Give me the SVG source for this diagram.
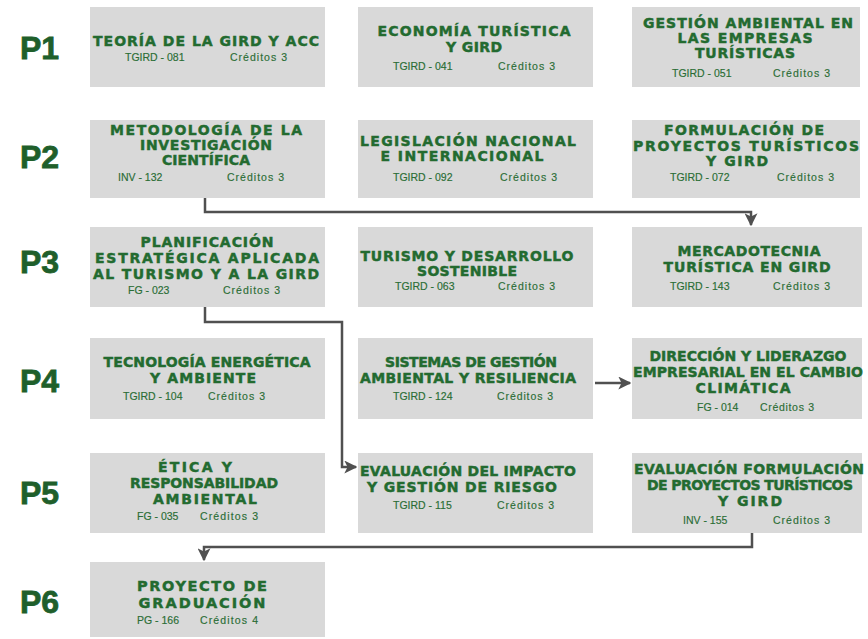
<svg xmlns="http://www.w3.org/2000/svg" width="868" height="639" viewBox="0 0 868 639">
<style>
.bg{fill:#ffffff}
.box{fill:#d9d9d9}
.t{font-family:"DejaVu Sans","Liberation Sans",sans-serif;font-weight:bold;font-size:14px;fill:#236b30;stroke:#236b30;stroke-width:0.45;text-anchor:middle}
.t6{font-size:14.5px}
.s{font-family:"Liberation Sans",Arial,sans-serif;font-size:10.5px;fill:#2a6d35;stroke:#2a6d35;stroke-width:0.15}
.p{font-family:"Liberation Sans",Arial,sans-serif;font-weight:bold;font-size:32px;fill:#1f5f2b;stroke:#1f5f2b;stroke-width:0.8}
.c{fill:none;stroke:#505050;stroke-width:2.5}
</style>
<defs>
<marker id="ah" viewBox="0 0 10 10" refX="9" refY="5" markerWidth="13" markerHeight="13" markerUnits="userSpaceOnUse" orient="auto">
<path d="M0,0 L10,5 L0,10 L2.5,5 z" fill="#505050"/>
</marker>
</defs>
<rect class="bg" x="0" y="0" width="868" height="639"/>

<g id="labels">
<text class="p" x="20" y="59">P1</text>
<text class="p" x="20" y="168">P2</text>
<text class="p" x="20" y="273">P3</text>
<text class="p" x="20" y="392">P4</text>
<text class="p" x="20" y="504">P5</text>
<text class="p" x="20" y="613">P6</text>
</g>

<g id="connectors">
<path class="c" d="M205,198 V212 H751 V225" marker-end="url(#ah)"/>
<path class="c" d="M205,307 V322 H342 V467 H356" marker-end="url(#ah)"/>
<path class="c" d="M595,383 H630" marker-end="url(#ah)"/>
<path class="c" d="M752,533 V547 H204 V560" marker-end="url(#ah)"/>
</g>

<g id="n-tgird081">
<rect class="box" x="90" y="7" width="235" height="80"/>
<text class="t" x="206" y="45.5" textLength="226">TEORÍA DE LA GIRD Y ACC</text>
<text class="s" x="125" y="61">TGIRD - 081</text>
<text class="s" x="230" y="61" textLength="57">Créditos 3</text>
</g>
<g id="n-tgird041">
<rect class="box" x="358" y="7" width="235" height="80"/>
<text class="t" x="474" y="36" textLength="193">ECONOMÍA TURÍSTICA</text>
<text class="t" x="474" y="51.5" textLength="56">Y GIRD</text>
<text class="s" x="393" y="70">TGIRD - 041</text>
<text class="s" x="498" y="70" textLength="57">Créditos 3</text>
</g>
<g id="n-tgird051">
<rect class="box" x="632" y="7" width="228" height="80"/>
<text class="t" x="748" y="28" textLength="210">GESTIÓN AMBIENTAL EN</text>
<text class="t" x="745" y="43" textLength="135">LAS EMPRESAS</text>
<text class="t" x="745" y="58" textLength="100">TURÍSTICAS</text>
<text class="s" x="672" y="77">TGIRD - 051</text>
<text class="s" x="773" y="77" textLength="57">Créditos 3</text>
</g>

<g id="n-inv132">
<rect class="box" x="90" y="120" width="235" height="78"/>
<text class="t" x="206" y="135" textLength="192">METODOLOGÍA DE LA</text>
<text class="t" x="206" y="150" textLength="132">INVESTIGACIÓN</text>
<text class="t" x="206" y="165" textLength="88">CIENTÍFICA</text>
<text class="s" x="118" y="181">INV - 132</text>
<text class="s" x="227" y="181" textLength="57">Créditos 3</text>
</g>
<g id="n-tgird092">
<rect class="box" x="358" y="120" width="235" height="78"/>
<text class="t" x="468" y="146" textLength="216">LEGISLACIÓN NACIONAL</text>
<text class="t" x="462" y="161" textLength="163">E INTERNACIONAL</text>
<text class="s" x="393" y="181">TGIRD - 092</text>
<text class="s" x="500" y="181" textLength="57">Créditos 3</text>
</g>
<g id="n-tgird072">
<rect class="box" x="632" y="120" width="228" height="78"/>
<text class="t" x="744" y="135" textLength="160">FORMULACIÓN DE</text>
<text class="t" x="746" y="150.5" textLength="226">PROYECTOS TURÍSTICOS</text>
<text class="t" x="737" y="166" textLength="62">Y GIRD</text>
<text class="s" x="670" y="181">TGIRD - 072</text>
<text class="s" x="777" y="181" textLength="57">Créditos 3</text>
</g>

<g id="n-fg023">
<rect class="box" x="90" y="227" width="235" height="80"/>
<text class="t" x="207" y="246.5" textLength="133">PLANIFICACIÓN</text>
<text class="t" x="207" y="262.5" textLength="224">ESTRATÉGICA APLICADA</text>
<text class="t" x="206" y="278.5" textLength="226">AL TURISMO Y A LA GIRD</text>
<text class="s" x="128" y="294">FG - 023</text>
<text class="s" x="223" y="294" textLength="57">Créditos 3</text>
</g>
<g id="n-tgird063">
<rect class="box" x="358" y="227" width="235" height="80"/>
<text class="t" x="467" y="261" textLength="213">TURISMO Y DESARROLLO</text>
<text class="t" x="467" y="276" textLength="100">SOSTENIBLE</text>
<text class="s" x="395" y="290">TGIRD - 063</text>
<text class="s" x="498" y="290" textLength="57">Créditos 3</text>
</g>
<g id="n-tgird143">
<rect class="box" x="632" y="227" width="230" height="80"/>
<text class="t" x="749" y="255.5" textLength="143">MERCADOTECNIA</text>
<text class="t" x="747" y="271.5" textLength="167">TURÍSTICA EN GIRD</text>
<text class="s" x="670" y="290">TGIRD - 143</text>
<text class="s" x="773" y="290" textLength="57">Créditos 3</text>
</g>

<g id="n-tgird104">
<rect class="box" x="90" y="338" width="235" height="81"/>
<text class="t" x="207" y="367" textLength="207">TECNOLOGÍA ENERGÉTICA</text>
<text class="t" x="203" y="382.5" textLength="106">Y AMBIENTE</text>
<text class="s" x="123" y="400">TGIRD - 104</text>
<text class="s" x="208" y="400" textLength="57">Créditos 3</text>
</g>
<g id="n-tgird124">
<rect class="box" x="358" y="338" width="235" height="81"/>
<text class="t" x="471" y="367" textLength="172">SISTEMAS DE GESTIÓN</text>
<text class="t" x="468" y="383" textLength="216">AMBIENTAL Y RESILIENCIA</text>
<text class="s" x="393" y="400">TGIRD - 124</text>
<text class="s" x="497" y="400" textLength="56">Créditos 3</text>
</g>
<g id="n-fg014">
<rect class="box" x="632" y="338" width="230" height="81"/>
<text class="t" x="748" y="360.5" textLength="197">DIRECCIÓN Y LIDERAZGO</text>
<text class="t" x="748" y="376.5" textLength="230">EMPRESARIAL EN EL CAMBIO</text>
<text class="t" x="743" y="392.5" textLength="95">CLIMÁTICA</text>
<text class="s" x="697" y="411">FG - 014</text>
<text class="s" x="760" y="411" textLength="54">Créditos 3</text>
</g>

<g id="n-fg035">
<rect class="box" x="90" y="453" width="235" height="80"/>
<text class="t" x="195" y="471.5" textLength="74">ÉTICA Y</text>
<text class="t" x="204" y="487.5" textLength="148">RESPONSABILIDAD</text>
<text class="t" x="205" y="503.5" textLength="104">AMBIENTAL</text>
<text class="s" x="137" y="520">FG - 035</text>
<text class="s" x="200" y="520" textLength="58">Créditos 3</text>
</g>
<g id="n-tgird115">
<rect class="box" x="358" y="453" width="235" height="80"/>
<text class="t" x="468" y="475.5" textLength="216">EVALUACIÓN DEL IMPACTO</text>
<text class="t" x="462" y="491.5" textLength="190">Y GESTIÓN DE RIESGO</text>
<text class="s" x="393" y="509">TGIRD - 115</text>
<text class="s" x="497" y="509" textLength="57">Créditos 3</text>
</g>
<g id="n-inv155">
<rect class="box" x="632" y="453" width="230" height="80"/>
<text class="t" x="749" y="473.5" textLength="230">EVALUACIÓN FORMULACIÓN</text>
<text class="t" x="750" y="489.5" textLength="206">DE PROYECTOS TURÍSTICOS</text>
<text class="t" x="750" y="505.5" textLength="64">Y GIRD</text>
<text class="s" x="683" y="524">INV - 155</text>
<text class="s" x="773" y="524" textLength="57">Créditos 3</text>
</g>

<g id="n-pg166">
<rect class="box" x="90" y="562" width="235" height="75"/>
<text class="t t6" x="202" y="591" textLength="130">PROYECTO DE</text>
<text class="t t6" x="202" y="607.5" textLength="127">GRADUACIÓN</text>
<text class="s" x="137" y="624">PG - 166</text>
<text class="s" x="200" y="624" textLength="58">Créditos 4</text>
</g>
</svg>
